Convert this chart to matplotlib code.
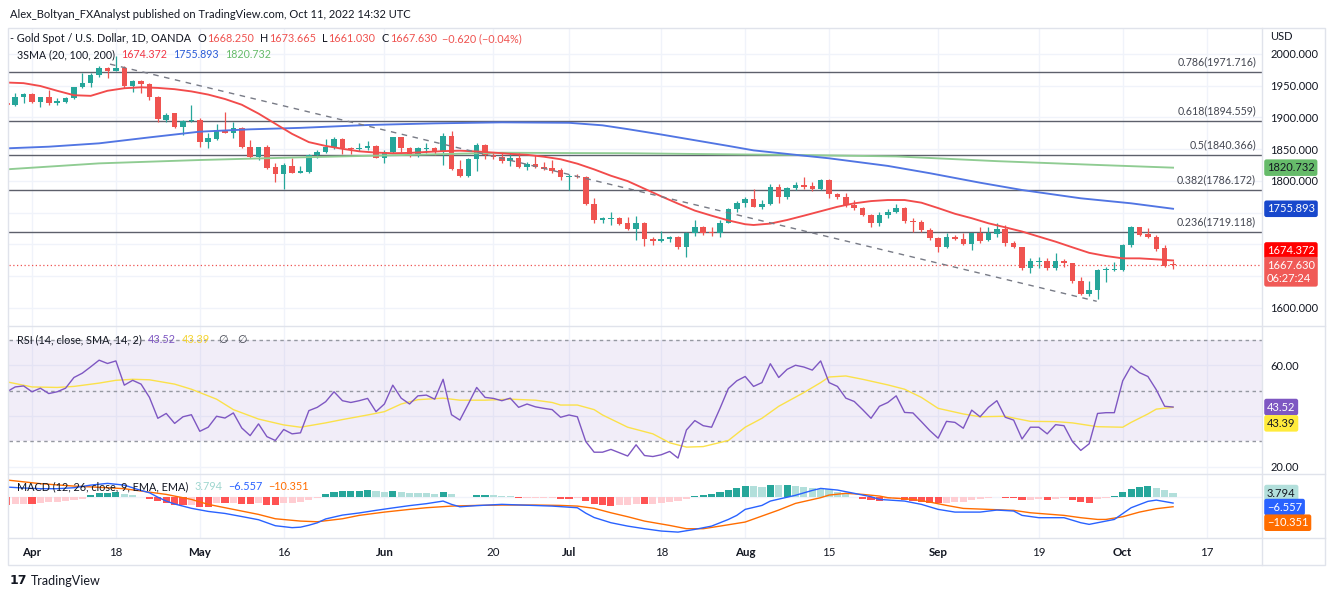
import matplotlib
matplotlib.use("Agg")
import matplotlib.pyplot as plt
from matplotlib.lines import Line2D
from matplotlib.patches import Rectangle
import numpy as np
import pandas as pd

plt.rcParams['font.family'] = ['Lato', 'DejaVu Sans']

W, H = 1332, 597

# ---------------- data ----------------
opens = [1923.2, 1919.5, 1932.7, 1936.9, 1924.8, 1931.6, 1923.2, 1924.8, 1930.1, 1947.4,
         1953.7, 1966.9, 1977.4, 1973.7, 1978.4, 1949.5, 1957.4, 1952.1, 1932.7, 1895.9,
         1906.4, 1885.4, 1894.3, 1895.9, 1861.7, 1865.4, 1880.1, 1875.9, 1882.7, 1852.8,
         1837.0, 1852.8, 1821.2, 1810.7, 1823.3, 1812.8, 1814.4, 1840.7, 1845.9, 1853.8,
         1865.4, 1852.2, 1849.6, 1851.2, 1855.4, 1836.4, 1844.8, 1868.5, 1851.2, 1840.6,
         1850.1, 1851.2, 1846.9, 1870.6, 1818.0, 1807.5, 1833.8, 1856.4, 1840.6, 1838.0,
         1831.7, 1836.4, 1821.2, 1825.9, 1822.2, 1819.6, 1817.0, 1806.5, 1807.5, 1806.5,
         1763.4, 1738.1, 1739.7, 1741.8, 1732.9, 1723.5, 1734.0, 1707.7, 1705.6, 1707.7,
         1710.8, 1695.1, 1717.2, 1726.6, 1719.8, 1717.2, 1734.0, 1755.0, 1765.5, 1770.8,
         1759.2, 1763.4, 1789.7, 1773.9, 1788.1, 1793.4, 1791.8, 1786.6, 1801.3, 1778.7,
         1774.0, 1761.8, 1756.6, 1746.1, 1734.0, 1746.1, 1751.3, 1756.6, 1737.1, 1735.5,
         1722.4, 1709.3, 1695.1, 1711.9, 1707.7, 1700.3, 1717.1, 1706.6, 1716.1, 1723.5,
         1701.4, 1695.1, 1661.9, 1672.5, 1673.5, 1661.9, 1673.5, 1669.8, 1642.5, 1621.5,
         1627.8, 1659.3, 1659.3, 1659.3, 1698.7, 1726.6, 1715.6, 1711.9, 1693.5, 1668.25]
highs = [1924.8, 1939.0, 1939.0, 1939.0, 1932.7, 1943.2, 1930.1, 1932.7, 1948.5, 1970.5,
         1969.5, 1981.1, 1980.0, 1996.8, 1981.1, 1959.0, 1959.0, 1954.8, 1933.7, 1906.4,
         1907.5, 1895.9, 1919.5, 1898.5, 1874.8, 1889.6, 1909.0, 1893.3, 1885.4, 1864.3,
         1853.8, 1856.4, 1827.5, 1827.5, 1835.4, 1823.3, 1842.3, 1848.6, 1865.4, 1869.6,
         1867.0, 1853.8, 1860.1, 1863.3, 1856.4, 1848.5, 1869.6, 1869.6, 1853.8, 1853.8,
         1859.1, 1853.8, 1874.8, 1879.0, 1832.8, 1835.4, 1859.1, 1858.0, 1845.9, 1843.3,
         1845.9, 1845.9, 1830.1, 1840.6, 1830.1, 1832.8, 1819.6, 1810.7, 1810.7, 1807.5,
         1772.3, 1743.4, 1751.3, 1743.4, 1742.3, 1744.5, 1735.6, 1710.9, 1721.4, 1712.9,
         1712.9, 1719.8, 1738.2, 1728.7, 1726.6, 1738.2, 1756.6, 1768.7, 1775.0, 1786.6,
         1769.7, 1795.0, 1795.0, 1790.8, 1798.6, 1806.5, 1798.6, 1802.3, 1802.3, 1781.3,
         1781.3, 1769.7, 1758.2, 1747.6, 1751.3, 1755.0, 1763.4, 1758.2, 1740.8, 1738.2,
         1725.0, 1711.9, 1717.1, 1714.5, 1717.1, 1718.2, 1726.6, 1726.6, 1732.9, 1730.3,
         1705.6, 1696.1, 1677.7, 1679.3, 1677.7, 1686.6, 1676.1, 1670.9, 1647.7, 1642.5,
         1660.4, 1663.5, 1672.5, 1700.3, 1728.7, 1727.7, 1725.0, 1714.5, 1698.7, 1673.665]
lows = [1918.0, 1918.0, 1922.2, 1922.2, 1916.9, 1919.5, 1919.5, 1922.2, 1928.5, 1945.8,
        1948.5, 1964.2, 1961.6, 1973.0, 1945.8, 1940.6, 1938.0, 1927.4, 1893.3, 1893.3,
        1882.7, 1872.2, 1893.3, 1853.8, 1851.2, 1864.3, 1874.8, 1867.0, 1851.2, 1835.4,
        1832.8, 1818.1, 1798.6, 1786.5, 1811.8, 1811.8, 1811.8, 1835.4, 1843.3, 1849.6,
        1842.2, 1842.2, 1847.5, 1848.5, 1835.4, 1828.6, 1843.3, 1845.9, 1838.0, 1837.0,
        1843.3, 1840.6, 1824.9, 1817.0, 1805.4, 1806.5, 1815.9, 1833.8, 1833.8, 1827.5,
        1823.3, 1819.6, 1817.0, 1819.6, 1817.0, 1812.8, 1801.2, 1785.4, 1803.8, 1761.8,
        1732.9, 1733.9, 1730.2, 1730.2, 1722.3, 1706.6, 1697.2, 1698.7, 1704.0, 1704.0,
        1691.9, 1679.3, 1712.9, 1714.5, 1712.9, 1710.8, 1732.9, 1751.3, 1758.2, 1758.2,
        1755.0, 1761.8, 1764.5, 1770.8, 1785.5, 1786.6, 1784.5, 1785.5, 1772.4, 1770.8,
        1759.2, 1754.0, 1744.5, 1726.6, 1728.7, 1740.8, 1748.7, 1732.9, 1719.8, 1719.8,
        1706.6, 1688.2, 1693.5, 1706.6, 1698.7, 1690.9, 1701.4, 1705.6, 1711.9, 1697.2,
        1693.5, 1659.3, 1654.0, 1661.9, 1659.3, 1659.3, 1663.5, 1639.3, 1619.9, 1618.3,
        1613.0, 1640.9, 1658.3, 1658.3, 1696.1, 1712.9, 1709.3, 1689.8, 1663.5, 1661.03]
closes = [1919.5, 1931.6, 1936.9, 1924.8, 1931.6, 1922.2, 1925.9, 1930.1, 1947.4, 1954.8,
          1966.9, 1977.4, 1973.7, 1977.4, 1949.5, 1957.4, 1952.1, 1932.7, 1897.0, 1903.8,
          1884.3, 1894.3, 1895.9, 1861.7, 1867.0, 1880.1, 1875.9, 1882.7, 1852.8, 1837.0,
          1852.8, 1819.6, 1810.7, 1824.9, 1812.8, 1816.0, 1840.7, 1845.9, 1853.8, 1865.4,
          1851.2, 1849.6, 1851.2, 1855.4, 1836.4, 1845.9, 1868.5, 1851.2, 1841.7, 1851.2,
          1851.2, 1845.9, 1870.6, 1818.0, 1807.5, 1833.8, 1856.4, 1840.6, 1838.0, 1831.7,
          1836.4, 1821.2, 1825.9, 1821.2, 1818.6, 1815.9, 1806.5, 1808.0, 1805.4, 1763.4,
          1738.1, 1740.7, 1741.8, 1731.8, 1723.4, 1734.0, 1707.7, 1705.6, 1707.7, 1710.8,
          1695.1, 1717.2, 1726.6, 1717.2, 1717.2, 1734.0, 1755.0, 1765.5, 1770.8, 1759.2,
          1763.4, 1789.7, 1773.9, 1788.1, 1793.4, 1790.8, 1786.6, 1801.3, 1778.7, 1774.0,
          1761.8, 1756.6, 1746.1, 1734.0, 1746.1, 1751.3, 1756.6, 1737.1, 1735.5, 1722.4,
          1709.3, 1695.1, 1711.9, 1707.7, 1700.3, 1717.1, 1705.6, 1717.1, 1723.5, 1701.4,
          1695.1, 1661.9, 1673.5, 1674.0, 1661.9, 1673.5, 1670.9, 1642.5, 1621.5, 1627.8,
          1659.3, 1660.4, 1660.4, 1698.7, 1726.6, 1714.5, 1711.9, 1691.9, 1665.6, 1667.63]

# moving averages (bar index, value) read at sample bars
sma20_bars = [0, 2, 4, 6, 8, 10, 12, 14, 16, 18, 20, 22, 24, 26, 28, 30, 32, 34, 36, 38,
              40, 42, 44, 46, 48, 50, 52, 54, 56, 58, 60, 62, 64, 66, 68, 70, 72, 74, 76, 78,
              80, 82, 84, 86, 88, 89, 91, 93, 95, 97, 99, 101, 103, 105, 107, 109, 111, 113,
              115, 117, 119, 121, 123, 125, 127, 129, 131, 133, 135, 137, 139]
sma20_vals = [1955, 1954, 1949.5, 1942, 1935, 1934, 1942, 1946, 1947.5, 1946.5, 1944.5, 1941,
              1936, 1929, 1920, 1906, 1890, 1874, 1861, 1855, 1850.5, 1846.5, 1844.5, 1843.5,
              1844, 1845.5, 1846.8, 1847.5, 1846.3, 1844.5, 1842.5, 1841, 1838, 1834, 1827,
              1818, 1808, 1799.5, 1787.5, 1775.5, 1764, 1753, 1745, 1737.5, 1731.5, 1730.3,
              1732.5, 1738.2, 1745, 1752, 1759, 1764.5, 1768, 1769.7, 1769.7, 1765.5, 1757,
              1748, 1741, 1733, 1726.6, 1720, 1712, 1704, 1695.1, 1686.4, 1681.4, 1677.7,
              1677.7, 1676.1, 1674.372]
sma100_bars = [0, 5, 11, 17, 23, 29, 35, 43, 51, 59, 67, 71, 74, 78, 82, 86, 89, 94, 98,
               105, 110, 116, 121, 128, 134, 139]
sma100_vals = [1851.2, 1853.8, 1859.1, 1868.5, 1877.5, 1881.2, 1883.5, 1888, 1890.6, 1892.2,
               1891.5, 1887.5, 1881.5, 1873, 1864, 1855, 1848, 1841, 1835.5, 1823.5, 1812,
               1797, 1785.5, 1772.4, 1764.5, 1755.893]
sma200_bars = [0, 11, 23, 35, 47, 59, 66, 74, 82, 94, 106, 118, 130, 139]
sma200_vals = [1818.1, 1827.5, 1832.8, 1837, 1840.6, 1844.3, 1843.8, 1843.5, 1842.3, 1840.7,
               1838.5, 1831, 1825, 1820.732]

fib_ratios = [0.786, 0.618, 0.5, 0.382, 0.236]
fib_prices = [1971.716, 1894.559, 1840.366, 1786.172, 1719.118]

trend_bars = [12.3, 129.9]
trend_prices = [1984.0, 1610.0]

rsi = [49.5, 51.4, 51.8, 49.5, 50.9, 48.8, 49.5, 50.9, 55.1, 56.8,
       59.3, 61.9, 60.6, 61.6, 52.1, 54.0, 52.5, 47.3, 39.1, 41.0,
       37.1, 39.7, 40.5, 34.0, 35.6, 39.9, 39.2, 41.2, 35.3, 32.3,
       36.9, 31.9, 30.4, 34.7, 33.0, 33.4, 42.1, 43.4, 45.6, 49.5,
       46.0, 45.3, 46.0, 46.9, 41.7, 44.7, 52.1, 47.0, 44.7, 47.9,
       48.2, 46.6, 54.4, 40.5, 38.4, 44.7, 51.2, 47.3, 46.9, 46.0,
       47.0, 43.4, 44.7, 43.6, 43.0, 42.5, 39.5, 40.4, 39.7, 30.0,
       25.8, 25.8, 26.9, 25.6, 24.3, 28.7, 24.5, 24.1, 24.8, 26.1,
       23.5, 34.5, 38.2, 36.2, 35.6, 43.0, 50.8, 53.8, 55.5, 51.6,
       53.1, 60.5, 55.1, 58.3, 59.9, 59.2, 58.0, 61.6, 53.1, 51.6,
       47.0, 45.7, 42.5, 39.1, 43.8, 45.3, 47.9, 41.4, 41.2, 37.8,
       34.3, 31.3, 37.9, 37.5, 35.2, 42.3, 39.7, 43.4, 46.0, 39.5,
       38.4, 31.0, 35.6, 35.6, 33.0, 36.6, 36.2, 30.0, 26.5, 29.1,
       41.0, 41.3, 41.3, 53.8, 59.6, 57.0, 55.5, 50.3, 43.8, 43.52]
rsi_ma_bars = [0, 3, 6, 8, 11, 13, 15, 17, 20, 22, 25, 27, 30, 33, 35, 38, 40, 43, 45, 47,
               49, 52, 54, 57, 60, 63, 65, 66, 68, 70, 71, 74, 77, 79, 81, 83, 86, 88, 90,
               92, 95, 97, 98, 100, 102, 105, 107, 109, 111, 114, 116, 119, 120, 122, 125,
               127, 130, 133, 134, 136, 137, 139]
rsi_ma_vals = [53.4, 51.4, 51.2, 51.6, 52.9, 54.0, 54.4, 54.2, 52.5, 50.5, 46.6, 42.5, 38.8,
               36.5, 35.6, 37.3, 38.6, 40.4, 41.7, 44.7, 46.4, 47.0, 46.2, 46.2, 46.6, 46.2,
               45.3, 44.3, 44.3, 42.5, 40.4, 35.6, 33.0, 29.5, 27.8, 28.0, 30.4, 35.6, 39.1,
               43.8, 49.2, 53.1, 55.3, 55.7, 54.4, 52.2, 50.5, 47.3, 43.0, 40.8, 39.7, 39.9,
               39.2, 37.9, 37.8, 37.3, 35.8, 35.6, 37.5, 40.8, 42.7, 43.39]

macd_hist = [-8.2, -8.0, -7.6, -8.0, -6.2, -5.9, -5.5, -4.8, -3.8, -2.1,
             1.4, 3.5, 4.1, 5.2, 2.4, 1.4, -0.7, -2.8, -4.5, -6.9,
             -8.3, -9.0, -8.3, -10.4, -10.6, -6.9, -6.9, -6.2, -7.6, -7.8,
             -6.2, -8.3, -8.5, -6.9, -6.2, -5.2, -3.5, -1.0, 2.4, 5.2,
             5.9, 6.2, 6.4, 6.9, 5.5, 4.8, 5.9, 5.2, 4.1, 3.8,
             3.5, 3.1, 5.2, 2.4, -0.5, -0.3, 1.7, 2.1, 1.4, 1.2,
             1.0, -1.4, -1.3, -1.2, -1.1, -1.0, -2.0, -2.2, -1.4, -4.5,
             -7.9, -9.0, -9.2, -9.0, -8.8, -7.6, -7.9, -7.2, -6.9, -5.5,
             -4.8, -2.1, 0.3, 1.4, 2.4, 4.8, 6.9, 9.0, 10.7, 10.7,
             10.5, 12.4, 11.7, 11.9, 11.4, 10.4, 9.0, 8.3, 7.6, 5.2,
             3.1, -0.3, -2.1, -3.8, -4.0, -2.1, -1.4, -3.8, -4.5, -5.2,
             -6.2, -6.9, -6.2, -5.5, -5.2, -3.8, -2.8, -1.7, -0.7, -1.4,
             -1.6, -3.8, -3.6, -2.8, -3.8, -2.1, -1.4, -3.5, -5.5, -6.2,
             -2.8, -1.0, 0.7, 5.2, 8.3, 10.0, 10.7, 9.3, 6.5, 3.794]
macd_bars = [0, 2, 4, 6, 8, 10, 12, 14, 16, 17, 18, 19, 20, 22, 24, 26, 28, 30, 32, 34, 35,
             36, 37, 38, 40, 42, 44, 46, 48, 50, 52, 53, 54, 56, 59, 62, 65, 68, 69, 70, 72,
             74, 76, 78, 80, 82, 84, 86, 87, 88, 90, 91, 94, 96, 97, 99, 101, 103, 104, 107,
             109, 111, 113, 116, 118, 120, 121, 123, 126, 128, 129, 131, 132, 134, 136, 137, 139]
macd_vals = [10.0, 9.0, 8.3, 8.3, 9.3, 12.0, 13.8, 12.0, 6.5, 4.1, -0.5, -4.5, -7.5, -12.0,
             -15.2, -17.3, -20.5, -23.8, -30.0, -32.0, -31.5, -29.5, -27.0, -23.0, -19.0,
             -16.8, -14.1, -11.6, -9.2, -7.2, -4.5, -7.9, -10.4, -9.2, -7.9, -8.8, -9.7,
             -11.4, -17.0, -21.5, -26.9, -30.4, -33.1, -35.5, -36.6, -33.8, -30.4, -23.5,
             -19.3, -13.1, -9.0, -4.5, 1.5, 6.5, 8.6, 6.9, 3.5, 0.0, -2.8, -4.5, -7.9, -13.1,
             -15.9, -15.9, -13.8, -14.8, -19.3, -21.7, -21.7, -26.9, -28.6, -25.2, -23.5,
             -11.4, -4.8, -3.5, -6.557]
signal_bars = [0, 4, 8, 12, 14, 16, 19, 22, 24, 27, 30, 32, 35, 37, 40, 42, 45, 48, 50, 53,
               56, 59, 63, 66, 68, 70, 72, 74, 76, 79, 81, 83, 85, 88, 90, 92, 94, 97, 98,
               100, 102, 104, 105, 108, 110, 112, 114, 117, 120, 122, 126, 128, 130, 131,
               133, 135, 137, 139]
signal_vals = [17.3, 13.5, 11.0, 9.3, 8.3, 5.9, 2.4, -2.8, -7.9, -13.1, -18.3, -22.8, -25.2,
               -25.9, -22.8, -19.3, -15.9, -13.1, -11.4, -9.7, -9.0, -8.6, -8.6, -9.0, -9.7,
               -12.0, -16.6, -20.7, -25.2, -29.7, -33.1, -33.1, -30.4, -26.2, -20.0, -13.8,
               -6.9, -1.0, 1.7, 3.5, 2.4, 0.7, -1.0, -2.8, -5.5, -9.0, -12.1, -13.1, -14.1,
               -16.6, -19.3, -21.7, -23.5, -23.5, -20.7, -15.9, -12.4, -10.351]

tick_dates = ['2022-04-01', '2022-04-18', '2022-05-02', '2022-05-16', '2022-06-01',
              '2022-06-20', '2022-07-01', '2022-07-18', '2022-08-01', '2022-08-15',
              '2022-09-01', '2022-09-19', '2022-10-03', '2022-10-17']
tick_labels = ['Apr', '18', 'May', '16', 'Jun', '20', 'Jul', '18', 'Aug', '15', 'Sep',
               '19', 'Oct', '17']
month_labels = {'Apr', 'May', 'Jun', 'Jul', 'Aug', 'Sep', 'Oct'}

# price levels whose axis labels sit under the value boxes (hidden, as in the reference)
hidden_price_ticks = {1650, 1700, 1750}

# ---------------- colours ----------------
UP, DN = '#26a69a', '#ef5350'
DARK = '#131722'
GRID = '#f0f3fa'
SEP = '#e0e3eb'

# trading calendar (weekdays, Good Friday closed)
trade_days = [d for d in pd.bdate_range('2022-03-29', '2022-11-04')
              if d != pd.Timestamp('2022-04-15')]
day_pos = {d: i for i, d in enumerate(trade_days)}
tick_pos = [day_pos[pd.Timestamp(d)] for d in tick_dates]

o = np.array(opens); h = np.array(highs); l = np.array(lows); c = np.array(closes)
x = np.arange(len(c))


def px_rect(x0, y0, x1, y1):
    return [x0 / W, 1 - y1 / H, (x1 - x0) / W, (y1 - y0) / H]


fig = plt.figure(figsize=(W / 100, H / 100), dpi=100)
fig.patch.set_facecolor('white')
ax_p = fig.add_axes(px_rect(9, 28, 1262, 326))
ax_r = fig.add_axes(px_rect(9, 326, 1262, 474), sharex=ax_p)
ax_m = fig.add_axes(px_rect(9, 474, 1262, 538), sharex=ax_p)

for ax in (ax_p, ax_r, ax_m):
    for s in ax.spines.values():
        s.set_visible(False)
    ax.set_facecolor('white')
    ax.set_xticks(tick_pos)
    ax.grid(axis='x', color=GRID, lw=1, zorder=0)
    ax.set_axisbelow(True)
    ax.yaxis.tick_right()
    ax.tick_params(axis='y', length=0, pad=6, labelsize=8, labelcolor=DARK)
ax_p.set_xlim(0.26, 149.6)
ax_p.tick_params(axis='x', length=0, labelbottom=False)
ax_r.tick_params(axis='x', length=0, labelbottom=False)

# ---------------- price pane ----------------
ax_p.set_ylim(1571.0, 2041.0)
price_ticks = list(range(1600, 2001, 50))
ax_p.set_yticks(price_ticks)
ax_p.set_yticklabels(['' if v in hidden_price_ticks else f'{v:.3f}' for v in price_ticks])
ax_p.grid(axis='y', color=GRID, lw=1, zorder=0)

for r, p in zip(fib_ratios, fib_prices):
    ax_p.axhline(p, color='#5d606b', lw=1, zorder=2)
    ax_p.annotate(f'{r}({p:.3f})', xy=(1, p), xycoords=('axes fraction', 'data'),
                  xytext=(-6, 10), textcoords='offset pixels', ha='right', va='center',
                  fontsize=7.7, color='#434651', zorder=7)

ax_p.axhline(closes[-1], color=DN, lw=0.9, ls=(0, (1, 2)), zorder=2.5)

cols = np.where(c >= o, UP, DN)
ax_p.vlines(x, l, h, colors=cols, lw=0.9, zorder=3)
ax_p.bar(x, np.maximum(np.abs(c - o), 0.9), bottom=np.minimum(o, c), width=0.66,
         color=cols, lw=0, zorder=4)

ax_p.plot(sma200_bars, sma200_vals, color='#8fcc92', lw=1.35, zorder=5)
ax_p.plot(sma100_bars, sma100_vals, color='#5175e3', lw=1.35, zorder=5)
ax_p.plot(sma20_bars, sma20_vals, color='#f24b4b', lw=1.35, zorder=5)
ax_p.plot(trend_bars, trend_prices, color='#787b86', lw=1, ls=(0, (4, 4)), zorder=6)

# ---------------- RSI pane ----------------
ax_r.set_ylim(17.25, 75.3)
ax_r.set_yticks([20, 40, 60])
ax_r.set_yticklabels(['20.00', '', '60.00'])
ax_r.grid(axis='y', color=GRID, lw=1, zorder=0)
ax_r.axhspan(30, 70, color='#7e57c2', alpha=0.1, lw=0, zorder=1)
for v in (70, 50, 30):
    ax_r.axhline(v, color='#9598a1', lw=1, ls=(0, (2.5, 2.5)), zorder=2)
ax_r.plot(x, rsi, color='#7e57c2', lw=1, zorder=4)
ax_r.plot(rsi_ma_bars, rsi_ma_vals, color='#fbe14a', lw=1, zorder=3)

# ---------------- MACD pane ----------------
ax_m.set_ylim(-42.7, 23.5)
ax_m.set_yticks([0])
ax_m.set_yticklabels([''])
ax_m.grid(axis='y', color=GRID, lw=1, zorder=0)
hist = np.array(macd_hist)
hcols = []
for i, v in enumerate(hist):
    prev = hist[i - 1] if i > 0 else v
    if v >= 0:
        hcols.append('#26a69a' if prev < v else '#b2dfdb')
    else:
        hcols.append('#ffcdd2' if prev < v else '#ff5252')
ax_m.bar(x, hist, width=0.85, color=hcols, lw=0, zorder=2)
ax_m.plot(signal_bars, signal_vals, color='#ff6d00', lw=1, zorder=3)
ax_m.plot(macd_bars, macd_vals, color='#2962ff', lw=1, zorder=4)
ax_m.set_xticklabels(tick_labels)
ax_m.tick_params(axis='x', length=0, pad=6.2, labelsize=8.3, labelcolor=DARK)
for t in ax_m.get_xticklabels():
    if t.get_text() in month_labels:
        t.set_fontweight('bold')


# ---------------- right-side value labels ----------------
def right_label(ax, val, text, fc, tc, shift=0, va='center'):
    ax.annotate(text, xy=(1, val), xycoords=('axes fraction', 'data'),
                xytext=(5, shift), textcoords='offset pixels', ha='left', va=va,
                fontsize=8, color=tc, linespacing=1.25,
                bbox=dict(boxstyle='round,pad=0.25,rounding_size=0.2', fc=fc, ec='none'),
                annotation_clip=False, zorder=10)


right_label(ax_p, sma200_vals[-1], f'{sma200_vals[-1]:.3f}', '#66bb6a', DARK)
right_label(ax_p, sma100_vals[-1], f'{sma100_vals[-1]:.3f}', '#1848cc', 'white')
right_label(ax_p, sma20_vals[-1], f'{sma20_vals[-1]:.3f}', '#ff0000', 'white', shift=10)
right_label(ax_p, closes[-1], f'{closes[-1]:.3f}\n06:27:24', '#f05a57', 'white', shift=-7)
right_label(ax_r, rsi[-1], f'{rsi[-1]:.2f}', '#7e57c2', 'white')
right_label(ax_r, rsi_ma_vals[-1], f'{rsi_ma_vals[-1]:.2f}', '#ffeb3b', DARK, shift=-16)
right_label(ax_m, macd_hist[-1], f'{macd_hist[-1]:.3f}', '#b2dfdb', DARK)
right_label(ax_m, macd_vals[-1], f'\u2212{abs(macd_vals[-1]):.3f}', '#2962ff', 'white', shift=-4)
right_label(ax_m, signal_vals[-1], f'\u2212{abs(signal_vals[-1]):.3f}', '#ff6d00', 'white', shift=-16)

# ---------------- frame & separators ----------------
fig.add_artist(Rectangle((8 / W, 1 - 565 / H), (1325 - 8) / W, (565 - 28) / H,
                         transform=fig.transFigure, fill=False, ec=SEP, lw=1))
for yy in (326, 474, 538):
    fig.add_artist(Line2D([8 / W, 1325 / W], [1 - yy / H] * 2, color=SEP, lw=1,
                          transform=fig.transFigure))
fig.add_artist(Line2D([1262 / W] * 2, [1 - 28 / H, 1 - 565 / H], color=SEP, lw=1,
                      transform=fig.transFigure))

# ---------------- texts ----------------
renderer = fig.canvas.get_renderer()


def seq_text(x0, y, pieces, size=7.8):
    """Lay out text pieces one after another, each followed by the given gap (px)."""
    xc = x0
    for s, col, gap in pieces:
        t = fig.text(xc / W, 1 - y / H, s, color=col, fontsize=size, va='center',
                     ha='left', zorder=20)
        xc += t.get_window_extent(renderer).width + gap


fig.text(10 / W, 1 - 14 / H,
         'Alex_Boltyan_FXAnalyst published on TradingView.com, Oct 11, 2022 14:32 UTC',
         fontsize=8.0, color=DARK, va='center')
seq_text(10, 39, [('- Gold Spot / U.S. Dollar, 1D, OANDA', DARK, 6),
                  ('O', DARK, 1), (f'{opens[-1]:.3f}', DN, 6),
                  ('H', DARK, 1), (f'{highs[-1]:.3f}', DN, 6),
                  ('L', DARK, 1), (f'{lows[-1]:.3f}', DN, 6),
                  ('C', DARK, 1), (f'{closes[-1]:.3f}', DN, 5),
                  ('\u22120.620 (\u22120.04%)', DN, 0)], size=7.8)
seq_text(17, 55, [('3SMA (20, 100, 200)', DARK, 6),
                  (f'{sma20_vals[-1]:.3f}', '#f23645', 6),
                  (f'{sma100_vals[-1]:.3f}', '#2a5bd7', 6),
                  (f'{sma200_vals[-1]:.3f}', '#66bb6a', 0)], size=7.7)
seq_text(17, 340, [('RSI (14, close, SMA, 14, 2)', DARK, 6),
                   (f'{rsi[-1]:.2f}', '#7e57c2', 6),
                   (f'{rsi_ma_vals[-1]:.2f}', '#f5d430', 8),
                   ('\u2205', '#434651', 10), ('\u2205', '#434651', 0)], size=7.8)
seq_text(17, 487, [('MACD (12, 26, close, 9, EMA, EMA)', DARK, 6),
                   (f'{macd_hist[-1]:.3f}', '#9fd6cf', 6),
                   (f'\u2212{abs(macd_vals[-1]):.3f}', '#2962ff', 6),
                   (f'\u2212{abs(signal_vals[-1]):.3f}', '#ff6d00', 0)], size=7.8)
fig.text(1270 / W, 1 - 37 / H, 'USD', fontsize=8, color=DARK, va='center')
fig.text(10 / W, 1 - 581 / H, '17', fontsize=9, color=DARK, va='center',
         fontweight='heavy', family=['DejaVu Sans'])
fig.text(31 / W, 1 - 581 / H, 'TradingView', fontsize=9, color=DARK, va='center')

fig.savefig('out.png', dpi=100, facecolor='white')
